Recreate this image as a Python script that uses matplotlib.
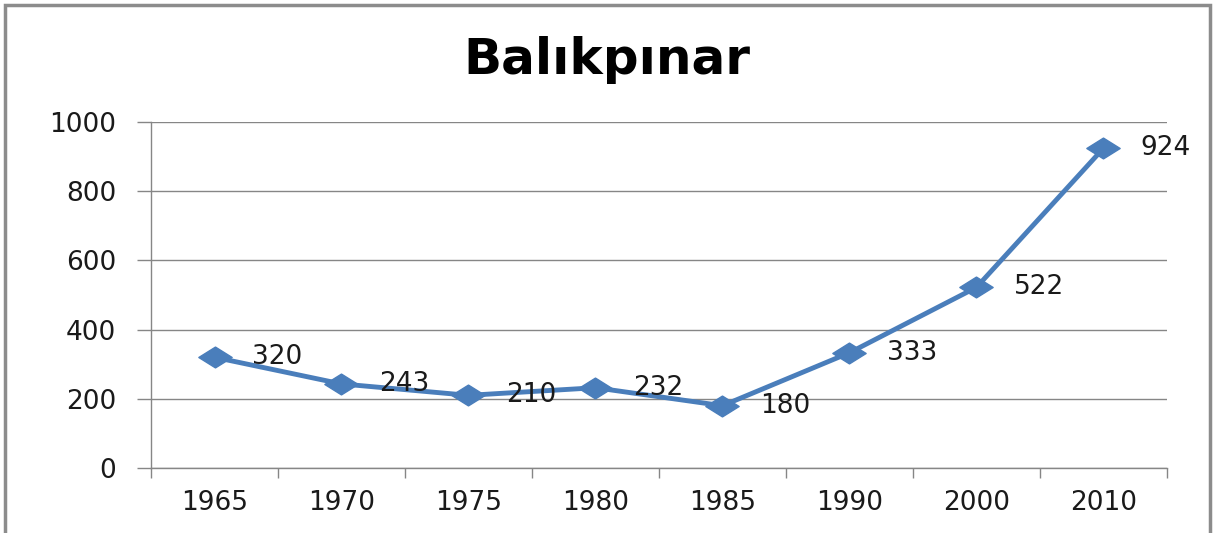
import matplotlib
matplotlib.use('Agg')
import matplotlib.pyplot as plt
from matplotlib.patches import Rectangle
from matplotlib.path import Path

years = ['1965', '1970', '1975', '1980', '1985', '1990', '2000', '2010']
population = [320, 243, 210, 232, 180, 333, 522, 924]
title = 'Balıkpınar'

line_color = '#4A7EBB'
grid_color = '#868686'

# wide diamond, the original is stretched sideways
diamond = Path([(-1.6, 0), (0, 1), (1.6, 0), (0, -1), (-1.6, 0)],
               [Path.MOVETO, Path.LINETO, Path.LINETO, Path.LINETO, Path.CLOSEPOLY])


def main():
    plt.rcParams['font.family'] = 'DejaVu Sans'
    fig = plt.figure(figsize=(12.18, 5.33), dpi=100)
    ax = fig.add_axes([0.124, 0.122, 0.834, 0.649])

    x = list(range(len(years)))
    ax.plot(x, population, color=line_color, lw=3.5, marker=diamond,
            markersize=24, markerfacecolor=line_color, markeredgecolor=line_color)
    for xi, v in zip(x, population):
        ax.annotate(str(v), (xi, v), xytext=(27, 0), textcoords='offset points',
                    ha='left', va='center', fontsize=19, color='#1a1a1a')

    ax.set_xlim(-0.5, len(years) - 0.5)
    ax.set_ylim(0, 1000)
    ax.set_yticks(range(0, 1001, 200))
    ax.set_xticks([i - 0.5 for i in range(len(years) + 1)])
    ax.set_xticklabels([])
    ax.set_xticks(x, minor=True)
    ax.set_xticklabels(years, minor=True)
    ax.tick_params(axis='x', which='major', length=7, color=grid_color, width=1)
    ax.tick_params(axis='x', which='minor', length=0, pad=16, labelsize=19,
                   labelcolor='#1a1a1a')
    ax.tick_params(axis='y', length=10, color=grid_color, width=1, pad=15,
                   labelsize=19, labelcolor='#1a1a1a')
    ax.grid(axis='y', color=grid_color, lw=1)
    ax.set_axisbelow(True)
    for s in ['top', 'right']:
        ax.spines[s].set_visible(False)
    for s in ['left', 'bottom']:
        ax.spines[s].set_color(grid_color)
        ax.spines[s].set_linewidth(1)

    fig.text(0.498, 0.887, title, ha='center', va='center', fontsize=36,
             fontweight='bold', color='black')

    fig.patches.append(Rectangle((5 / 1218, -0.05), 1205 / 1218, 1.05 - 5 / 533,
                                 transform=fig.transFigure, fill=False,
                                 edgecolor='#8c8c8c', lw=2.5))

    fig.savefig('out.png', dpi=100)


if __name__ == '__main__':
    main()
